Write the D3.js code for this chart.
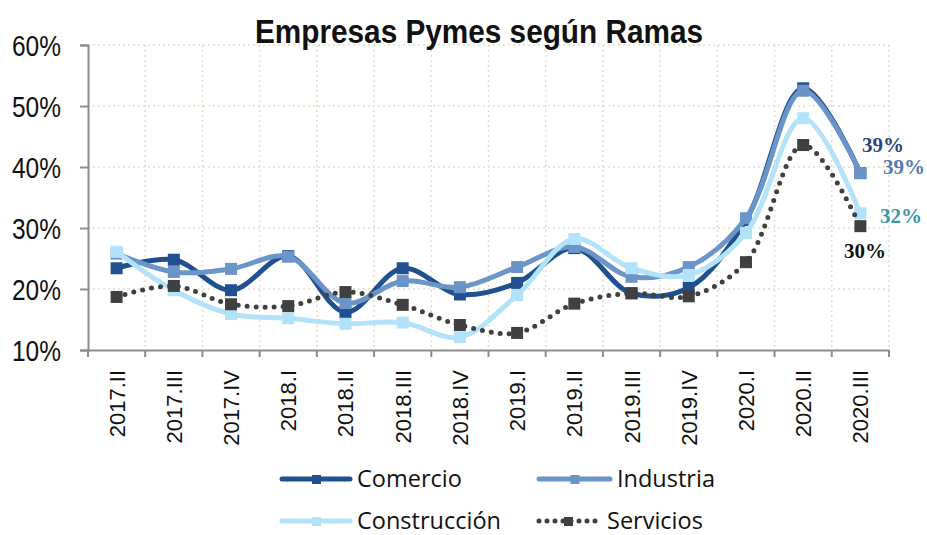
<!DOCTYPE html>
<html><head><meta charset="utf-8">
<script src="https://cdn.jsdelivr.net/npm/d3@7"></script>
<style>body{margin:0;background:#fff}svg{display:block}</style>
</head><body>
<svg id="c" width="927" height="535"></svg>
<script>
const categories = ["2017.II","2017.III","2017.IV","2018.I","2018.II","2018.III","2018.IV","2019.I","2019.II","2019.III","2019.IV","2020.I","2020.II","2020.III"];
const comercio     = [23.4,24.8,19.8,25.4,16.2,23.4,19.1,21.0,26.7,19.3,20.2,31.3,52.9,39.0];
const industria    = [25.8,22.8,23.3,25.3,17.7,21.3,20.3,23.6,26.9,22.0,23.6,31.6,52.5,39.0];
const construccion = [26.1,19.8,15.9,15.2,14.3,14.5,12.1,19.0,28.2,23.4,22.3,29.2,48.0,32.4];
const servicios    = [18.7,20.5,17.5,17.2,19.5,17.4,14.1,12.8,17.6,19.3,18.8,24.4,43.6,30.3];
const yTicks = [10,20,30,40,50,60];
const seriesNames = ["Comercio","Industria","Construcción","Servicios"];
const endLabels = ["39%","39%","32%","30%"];

const svg = d3.select("#c");
const L = 88, R = 889, T = 45, B = 350;
const x = d3.scaleBand().domain(categories).range([L, R]);
const y = d3.scaleLinear().domain([10, 60]).range([B, T]);
const cx = d => x(d) + x.bandwidth()/2;

// grid
const grid = svg.append("g");
grid.selectAll("line.h").data(yTicks.filter(t => t > 10)).join("line")
  .attr("x1", L).attr("x2", R).attr("y1", d => y(d)).attr("y2", d => y(d))
  .attr("stroke", "#e3dfcc").attr("stroke-width", 1.5).attr("stroke-dasharray", "2,3");
grid.selectAll("line.v").data(categories.slice(1)).join("line")
  .attr("x1", d => x(d)).attr("x2", d => x(d)).attr("y1", T).attr("y2", B)
  .attr("stroke", "#e3dfcc").attr("stroke-width", 1.5).attr("stroke-dasharray", "2,3");
grid.append("line").attr("x1", R).attr("x2", R).attr("y1", T).attr("y2", B)
  .attr("stroke", "#e3dfcc").attr("stroke-width", 1.5).attr("stroke-dasharray", "2,3");

// axes
const yAxis = svg.append("g").attr("transform", `translate(${L},0)`)
  .call(d3.axisLeft(y).tickValues(yTicks).tickFormat(d => d + "%").tickSize(8).tickPadding(0));
yAxis.select(".domain").attr("stroke", "#8c8c8c").attr("stroke-width", 2);
yAxis.selectAll(".tick line").attr("stroke", "#8c8c8c").attr("stroke-width", 2);
yAxis.selectAll(".tick text").attr("font-family", "'Liberation Sans', Arial, sans-serif")
  .attr("font-size", 29).attr("fill", "#111")
  .attr("x", -27).attr("dy", "0.36em")
  .attr("textLength", 49).attr("lengthAdjust", "spacingAndGlyphs");

const xAxis = svg.append("g").attr("transform", `translate(0,${B})`)
  .call(d3.axisBottom(x).tickSize(0).tickFormat(""));
xAxis.select(".domain").attr("stroke", "#8c8c8c").attr("stroke-width", 2);
xAxis.selectAll(".tick").remove();
const bounds = categories.map(c => x(c)).concat([R]);
xAxis.selectAll("line.t").data(bounds).join("line")
  .attr("x1", d => d).attr("x2", d => d).attr("y1", 0).attr("y2", 7)
  .attr("stroke", "#8c8c8c").attr("stroke-width", 2);
xAxis.selectAll("text.lab").data(categories).join("text")
  .attr("transform", d => `translate(${cx(d)+8},20) rotate(-90)`)
  .attr("text-anchor", "end")
  .attr("font-family", "'Liberation Sans', Arial, sans-serif").attr("font-size", 22).attr("fill", "#111")
  .text(d => d);

// title
svg.append("text").attr("x", 479).attr("y", 43).attr("text-anchor", "middle")
  .attr("font-family", "'Liberation Sans', Arial, sans-serif")
  .attr("font-weight", "bold").attr("font-size", 33).attr("fill", "#111")
  .attr("textLength", 448).attr("lengthAdjust", "spacingAndGlyphs")
  .text("Empresas Pymes según Ramas");

const cfg = [
  {name: seriesNames[0], data: comercio, color: "#21508f", dash: null},
  {name: seriesNames[1], data: industria, color: "#6b95c8", dash: null},
  {name: seriesNames[2], data: construccion, color: "#b3e2fb", dash: null},
  {name: seriesNames[3], data: servicios, color: "#404040", dash: "0,9"}
];
const line = d3.line().x((d, i) => cx(categories[i])).y(d => y(d)).curve(d3.curveCatmullRom.alpha(0.5));

cfg.forEach(s => {
  const p = svg.append("path").attr("d", line(s.data)).attr("fill", "none")
    .attr("stroke", s.color).attr("stroke-width", 5).attr("stroke-linecap", "round");
  if (s.dash) p.attr("stroke-dasharray", s.dash);
  svg.selectAll(null).data(s.data).join("rect")
    .attr("x", (d, i) => cx(categories[i]) - 6).attr("y", d => y(d) - 6)
    .attr("width", 12).attr("height", 12).attr("fill", s.color);
});

// end labels
const lab = [
  {t: endLabels[0], x: 862, y: 152, c: "#2b4477"},
  {t: endLabels[1], x: 883, y: 174, c: "#5579b3"},
  {t: endLabels[2], x: 880, y: 223, c: "#3a95a8"},
  {t: endLabels[3], x: 844, y: 258, c: "#111"}
];
svg.selectAll("text.end").data(lab).join("text")
  .attr("x", d => d.x).attr("y", d => d.y).attr("fill", d => d.c)
  .attr("font-family", "'Liberation Serif', 'Times New Roman', serif").attr("font-weight", "bold")
  .attr("font-size", 21).text(d => d.t);

// legend
const leg = [
  {x: 280, y: 479, s: cfg[0], w: 70, tx: 357}, {x: 537, y: 479, s: cfg[1], w: 73, tx: 617},
  {x: 280, y: 521, s: cfg[2], w: 70, tx: 357}, {x: 537, y: 521, s: cfg[3], w: 60, tx: 607}
];
leg.forEach(l => {
  const ln = svg.append("line").attr("x1", l.x + 2).attr("x2", l.x + l.w).attr("y1", l.y).attr("y2", l.y)
    .attr("stroke", l.s.color).attr("stroke-width", 5).attr("stroke-linecap", "round");
  if (l.s.dash) ln.attr("stroke-dasharray", "0,8");
  svg.append("rect").attr("x", l.x + l.w/2 - 3).attr("y", l.y - 4).attr("width", 9).attr("height", 9)
    .attr("fill", l.s.color);
  svg.append("text").attr("x", l.tx).attr("y", l.y + 8)
    .attr("font-family", "'Open Sans', 'Noto Sans', sans-serif").attr("font-size", 23.5).attr("fill", "#111")
    .text(l.s.name);
});
</script>
</body></html>
